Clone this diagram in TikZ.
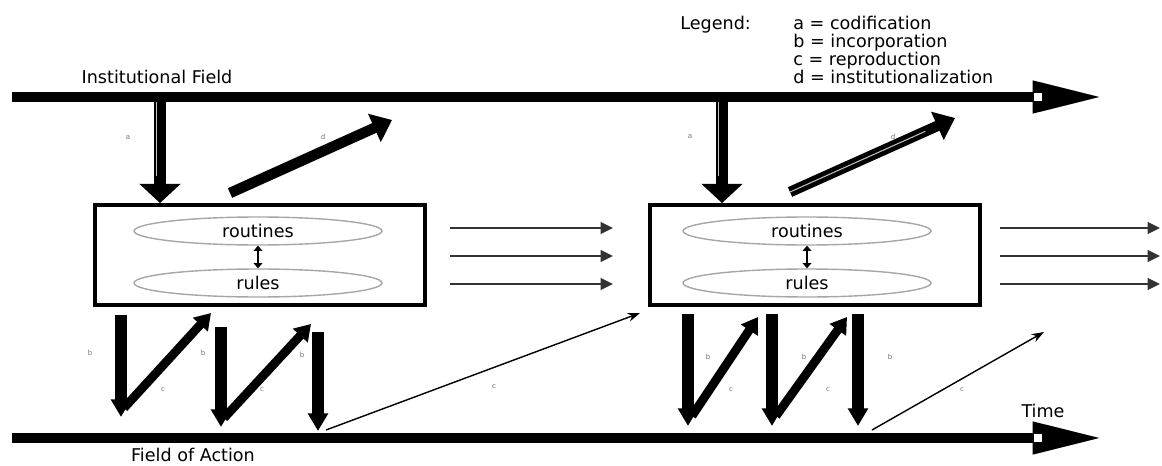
\documentclass[tikz,border=0pt]{standalone}
\usepackage{fontspec}
\setmainfont{DejaVu Sans}
\usetikzlibrary{arrows.meta, shapes.geometric, positioning, calc}

\tikzset{
    lbl/.style={font=\fontsize{10}{10.3}\selectfont, inner sep=0pt},
    tag/.style={font=\fontsize{4}{4}\selectfont, text=black!55, inner sep=0pt},
    fieldline/.style={line width=6pt, -{Triangle[length=40pt,width=17pt]}},
    codarrow/.style={line width=7pt, -{Triangle[length=11pt,width=23pt]}},
    instarrow/.style={line width=6pt, -{Triangle[length=11pt,width=17pt]}},
    incarrow/.style={line width=6.5pt, -{Triangle[length=10pt,width=11pt]}},
    reparrow/.style={line width=5pt, -{Triangle[length=9pt,width=11pt]}},
    thinrep/.style={line width=0.8pt, -{Stealth[length=7pt,width=5pt]}},
    flow/.style={line width=1.4pt, black!80, -{Triangle[length=7pt,width=6.5pt]}},
    stripe/.style={line width=0.6pt, black!25},
    fieldbox/.style={draw, line width=2.2pt, minimum width=6.6cm, minimum height=2cm},
    layer/.style={ellipse, draw=black!35, line width=0.8pt, minimum width=4.96cm, minimum height=0.56cm, inner sep=0pt, font=\fontsize{10}{12}\selectfont},
    notch/.style={fill=white, minimum width=4.5pt, minimum height=4pt, inner sep=0pt}
}

\begin{document}
\begin{tikzpicture}[x=0.02cm, y=-0.02cm]
    \useasboundingbox (0,0) rectangle (1162,466);

    % Legend
    \node[lbl, anchor=north west, align=left] (legitems) at (793,16)
        {a = codification\\ b = incorporation\\ c = reproduction\\ d = institutionalization};
    \node[lbl, anchor=base west] (legtitle) at (680,29.5) {Legend:};

    % The two fields and the time axis
    \coordinate (instart) at (12,97);
    \coordinate (inend) at (1103,97);
    \coordinate (actstart) at (12,438);
    \coordinate (actend) at (1103,438);
    \draw[fieldline] (instart) -- (inend);
    \draw[fieldline] (actstart) -- (actend);
    \node[notch] (innotch) at (1038,97) {};
    \node[notch] (actnotch) at (1038,438) {};
    \node[lbl] (inlabel) at (157,77) {Institutional Field};
    \node[lbl] (actlabel) at (193,455) {Field of Action};
    \node[lbl] (timelabel) at (1043,411) {Time};

    % Boxes with routines and rules
    \node[fieldbox] (box1) at (260,255) {};
    \node[fieldbox] (box2) at (815,255) {};
    \node[layer] (rout1) at (258,231) {routines};
    \node[layer] (rule1) at (258,283) {rules};
    \node[layer] (rout2) at (807,231) {routines};
    \node[layer] (rule2) at (807,283) {rules};
    \draw[line width=1.5pt, {Triangle[length=3pt,width=5pt]}-{Triangle[length=3pt,width=5pt]}] (rule1) -- (rout1);
    \draw[line width=1.5pt, {Triangle[length=3pt,width=5pt]}-{Triangle[length=3pt,width=5pt]}] (rule2) -- (rout2);

    % Flows on to the next period
    \foreach \y in {228,256,284}{
        \draw[flow] (450,\y) -- (613,\y);
        \draw[flow] (1000,\y) -- (1160,\y);
    }

    % Codification (a) and institutionalization (d)
    \coordinate (cod1) at (160,102);
    \coordinate (cod2) at (722,102);
    \draw[codarrow] (cod1) -- (cod1 |- box1.north);
    \draw[codarrow] (cod2) -- (cod2 |- box2.north);
    \draw[stripe] ([xshift=-2pt]cod1) -- ++(0,74);
    \draw[stripe] ([xshift=-2pt]cod2) -- ++(0,74);
    \coordinate (inst1a) at (230,193);
    \coordinate (inst1b) at (392,120);
    \coordinate (inst2a) at (790,192);
    \coordinate (inst2b) at (955,118);
    \draw[instarrow] (inst1a) -- (inst1b);
    \draw[instarrow] (inst2a) -- (inst2b);
    \draw[stripe] (inst2a) -- ($(inst2a)!0.82!(inst2b)$);
    \node[tag] (ta1) at (128,138) {a};
    \node[tag] (ta2) at (690,137) {a};
    \node[tag] (td1) at (323,137) {d};
    \node[tag] (td2) at (893,137) {d};

    % Incorporation (b) and reproduction (c), first period
    \coordinate (inc1a) at (121,315);
    \coordinate (inc1b) at (121,417);
    \coordinate (inc2a) at (221,327);
    \coordinate (inc2b) at (221,427);
    \coordinate (inc3a) at (318,332);
    \coordinate (inc3b) at (318,431);
    \draw[incarrow] (inc1a) -- (inc1b);
    \draw[incarrow] (inc2a) -- (inc2b);
    \draw[incarrow] (inc3a) -- (inc3b);
    \coordinate (rep1a) at (124,408);
    \coordinate (rep1b) at (211,313);
    \coordinate (rep2a) at (224,418);
    \coordinate (rep2b) at (311,324);
    \draw[reparrow] (rep1a) -- (rep1b);
    \draw[reparrow] (rep2a) -- (rep2b);
    \coordinate (rep3a) at (326,430);
    \coordinate (rep3b) at (640,313);
    \draw[thinrep] (rep3a) -- (rep3b);

    % Incorporation (b) and reproduction (c), second period
    \coordinate (inc4a) at (688,314);
    \coordinate (inc4b) at (688,426);
    \coordinate (inc5a) at (772,314);
    \coordinate (inc5b) at (772,426);
    \coordinate (inc6a) at (858,314);
    \coordinate (inc6b) at (858,426);
    \draw[incarrow] (inc4a) -- (inc4b);
    \draw[incarrow] (inc5a) -- (inc5b);
    \draw[incarrow] (inc6a) -- (inc6b);
    \coordinate (rep4a) at (692,416);
    \coordinate (rep4b) at (758,317);
    \coordinate (rep5a) at (776,416);
    \coordinate (rep5b) at (847,317);
    \draw[reparrow] (rep4a) -- (rep4b);
    \draw[reparrow] (rep5a) -- (rep5b);
    \coordinate (rep6a) at (872,430);
    \coordinate (rep6b) at (1044,332);
    \draw[thinrep] (rep6a) -- (rep6b);

    % Small letters on the arrows
    \node[tag] (tb1) at (90,353) {b};
    \node[tag] (tb2) at (203,353) {b};
    \node[tag] (tb3) at (302,355) {b};
    \node[tag] (tb4) at (708,357) {b};
    \node[tag] (tb5) at (804,357) {b};
    \node[tag] (tb6) at (890,357) {b};
    \node[tag] (tc1) at (163,390) {c};
    \node[tag] (tc2) at (262,390) {c};
    \node[tag] (tc3) at (494,387) {c};
    \node[tag] (tc4) at (731,390) {c};
    \node[tag] (tc5) at (828,390) {c};
    \node[tag] (tc6) at (962,390) {c};

\end{tikzpicture}
\end{document}
